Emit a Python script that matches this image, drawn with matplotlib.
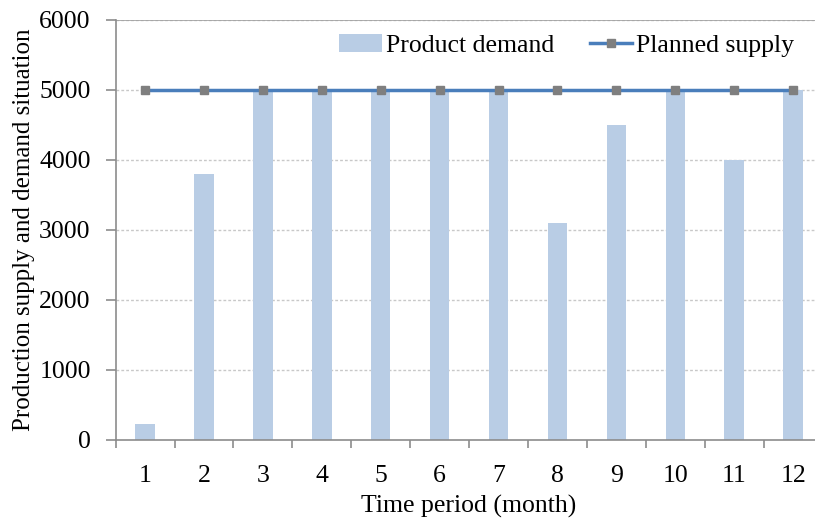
import matplotlib
matplotlib.use("Agg")
import matplotlib.pyplot as plt
import numpy as np

months = list(range(1, 13))
month_labels = [str(m) for m in months]
product_demand = [230, 3800, 5000, 5000, 5000, 5000, 5000, 3100, 4500, 5000, 4000, 5000]
planned_supply = [5000] * 12
y_ticks = [0, 1000, 2000, 3000, 4000, 5000, 6000]

plt.rcParams['font.family'] = ['Liberation Serif', 'DejaVu Serif']
FS = 18.5

W, H = 815, 519
fig = plt.figure(figsize=(W / 100, H / 100), dpi=100)
left, right = 115.7, 822.5
bottom, top = 440, 20
ax = fig.add_axes([left / W, (H - bottom) / H, (right - left) / W, (bottom - top) / H])

bar_color = '#B9CDE5'
line_color = '#4A7EBB'
marker_color = '#7F7F7F'
spine_color = '#8C8C8C'

bars = ax.bar(months, product_demand, width=0.33, color=bar_color, label='Product demand', zorder=2)
line, = ax.plot(months, planned_supply, color=line_color, lw=2.5, marker='s', markersize=6,
                markerfacecolor=marker_color, markeredgecolor=marker_color,
                label='Planned supply', zorder=3)

ax.set_xlim(0.5, 12.5)
ax.set_ylim(0, 6000)
ax.set_yticks(y_ticks)
ax.set_yticklabels([str(v) for v in y_ticks])
ax.set_xticks(months)
ax.set_xticklabels(month_labels)
ax.set_xticks(np.arange(0.5, 13, 1), minor=True)
ax.tick_params(axis='x', which='major', length=0, pad=18, labelsize=FS)
ax.tick_params(axis='x', which='minor', length=6, width=1.2, color=spine_color, direction='out')
ax.tick_params(axis='y', length=7, width=1.2, color=spine_color, direction='out', pad=11, labelsize=FS)

for v in y_ticks[1:]:
    ax.axhline(v, color='#C8C8C8', lw=1, ls=(0, (2, 1.5)), zorder=1)
ax.axhline(6000, color='#A0A0A0', lw=1.2, zorder=1)

for s in ['top', 'right']:
    ax.spines[s].set_visible(False)
for s in ['left', 'bottom']:
    ax.spines[s].set_color(spine_color)
    ax.spines[s].set_linewidth(1.2)

ax.set_xlabel('Time period (month)', fontsize=FS, labelpad=6)
ax.set_ylabel('Production supply and demand situation', fontsize=18, labelpad=3)

ax.legend(handles=[bars, line], loc='upper left', bbox_to_anchor=(0.302, 0.99), ncol=2,
          frameon=False, fontsize=FS, handlelength=1.65, handletextpad=0.15,
          columnspacing=1.4, borderaxespad=0)

fig.savefig('out.png', dpi=100)
